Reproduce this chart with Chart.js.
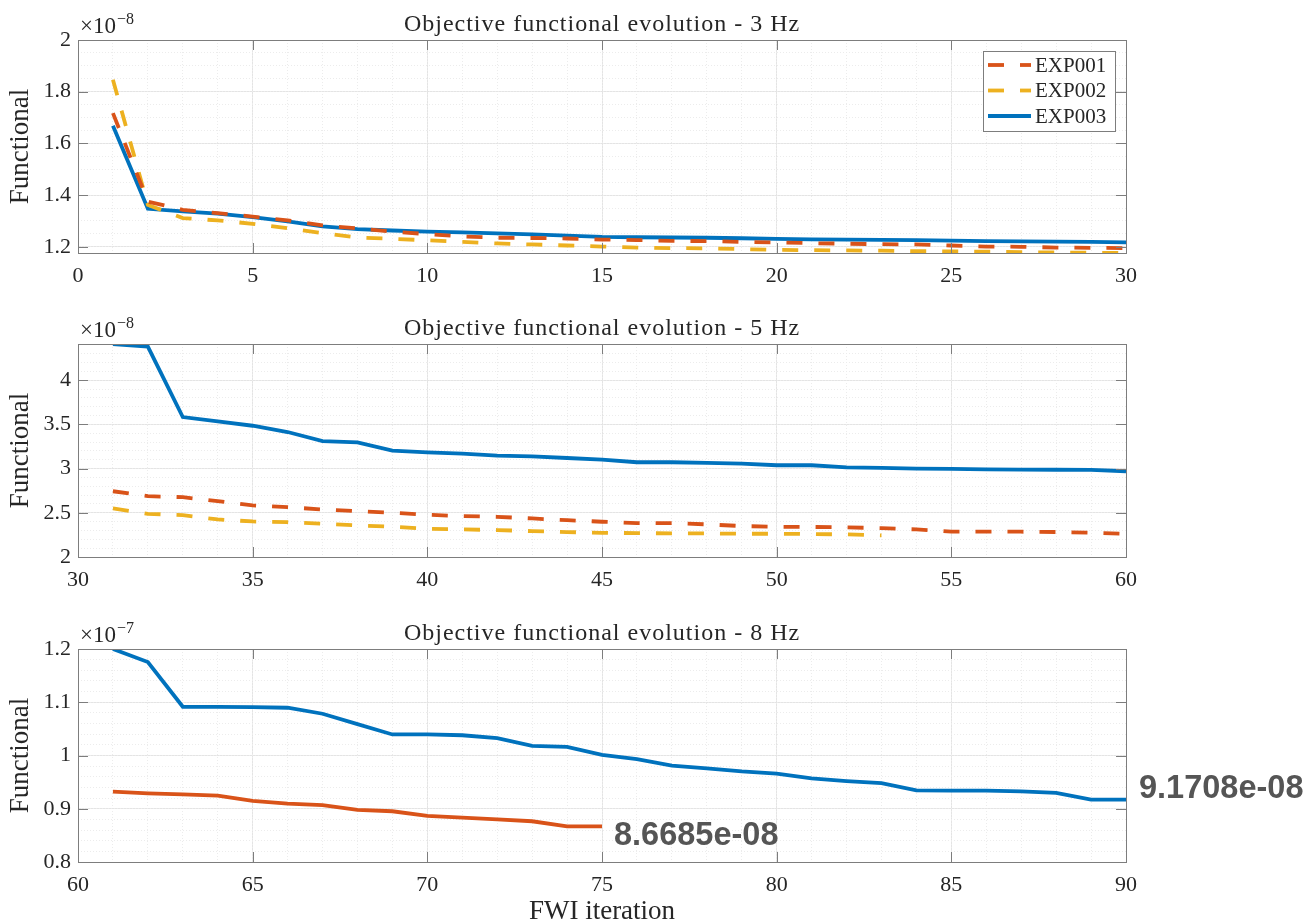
<!DOCTYPE html>
<html>
<head>
<meta charset="utf-8">
<script src="https://cdn.jsdelivr.net/npm/chart.js@4.4.1/dist/chart.umd.min.js"></script>
<style>
  body { margin: 0; background: #fff; overflow: hidden; }
  canvas { position: absolute; left: 0; }
</style>
</head>
<body>
<canvas id="c3hz" width="1306" height="300" style="top:0px"></canvas>
<canvas id="c5hz" width="1306" height="300" style="top:300px"></canvas>
<canvas id="c8hz" width="1306" height="332" style="top:600px"></canvas>
<script>
// iterations
const iter3Hz = [1, 2, 3, 4, 5, 6, 7, 8, 9, 10, 11, 12, 13, 14, 15, 16, 17, 18, 19, 20, 21, 22, 23, 24, 25, 26, 27, 28, 29, 30];
const iter5Hz = [31, 32, 33, 34, 35, 36, 37, 38, 39, 40, 41, 42, 43, 44, 45, 46, 47, 48, 49, 50, 51, 52, 53, 54, 55, 56, 57, 58, 59, 60];
const iter8Hz = [61, 62, 63, 64, 65, 66, 67, 68, 69, 70, 71, 72, 73, 74, 75, 76, 77, 78, 79, 80, 81, 82, 83, 84, 85, 86, 87, 88, 89, 90];

// functional values, 3 Hz (x1e-8)
const exp001_3Hz = [1.717, 1.375, 1.343, 1.330, 1.317, 1.302, 1.283, 1.271, 1.259, 1.249, 1.240, 1.235, 1.234, 1.232, 1.228, 1.226, 1.223, 1.222, 1.219, 1.217, 1.214, 1.212, 1.210, 1.209, 1.205, 1.201, 1.200, 1.197, 1.196, 1.195];
const exp002_3Hz = [1.846, 1.362, 1.311, 1.302, 1.289, 1.272, 1.253, 1.236, 1.231, 1.225, 1.219, 1.213, 1.209, 1.205, 1.201, 1.197, 1.195, 1.194, 1.191, 1.188, 1.187, 1.186, 1.185, 1.183, 1.182, 1.181, 1.179, 1.178, 1.177, 1.176];
const exp003_3Hz = [1.668, 1.347, 1.337, 1.328, 1.315, 1.298, 1.279, 1.268, 1.263, 1.259, 1.256, 1.252, 1.248, 1.243, 1.238, 1.237, 1.236, 1.235, 1.233, 1.231, 1.229, 1.228, 1.227, 1.226, 1.224, 1.222, 1.221, 1.220, 1.219, 1.217];

// 5 Hz (x1e-8)
const exp001_5Hz = [2.744, 2.688, 2.677, 2.632, 2.583, 2.564, 2.538, 2.519, 2.500, 2.478, 2.463, 2.455, 2.436, 2.417, 2.399, 2.384, 2.384, 2.369, 2.350, 2.342, 2.340, 2.335, 2.327, 2.312, 2.286, 2.286, 2.286, 2.283, 2.275, 2.263];
const exp002_5Hz = [2.549, 2.489, 2.474, 2.425, 2.402, 2.395, 2.376, 2.357, 2.342, 2.320, 2.312, 2.305, 2.293, 2.282, 2.274, 2.270, 2.268, 2.267, 2.263, 2.263, 2.260, 2.256, 2.245];
const exp003_5Hz = [4.408, 4.380, 3.583, 3.534, 3.485, 3.414, 3.312, 3.297, 3.203, 3.184, 3.169, 3.147, 3.139, 3.120, 3.102, 3.072, 3.072, 3.064, 3.056, 3.038, 3.038, 3.015, 3.008, 3.000, 2.996, 2.992, 2.989, 2.987, 2.986, 2.970];

// 8 Hz (x1e-7)
const exp001_8Hz = [0.9323, 0.9290, 0.9270, 0.9248, 0.9147, 0.9097, 0.9070, 0.8978, 0.8953, 0.8865, 0.8835, 0.8800, 0.8765, 0.8670, 0.86685];
const exp003_8Hz = [1.2000, 1.1755, 1.0915, 1.0915, 1.0910, 1.0897, 1.0784, 1.0590, 1.0395, 1.0395, 1.0380, 1.0326, 1.0180, 1.0163, 1.0013, 0.9930, 0.9810, 0.9760, 0.9700, 0.9660, 0.9570, 0.9520, 0.9480, 0.9345, 0.9340, 0.9340, 0.9325, 0.9300, 0.9172, 0.91708];

// tick labels
const xTicks3Hz = [0, 5, 10, 15, 20, 25, 30];
const xTicks5Hz = [30, 35, 40, 45, 50, 55, 60];
const xTicks8Hz = [60, 65, 70, 75, 80, 85, 90];
const yTicks3Hz = [1.2, 1.4, 1.6, 1.8, 2];
const yTicks5Hz = [2, 2.5, 3, 3.5, 4];
const yTicks8Hz = [0.8, 0.9, 1, 1.1, 1.2];

const seriesNames = ['EXP001', 'EXP002', 'EXP003'];
const endLabels = ['8.6685e-08', '9.1708e-08'];

const RED = '#D95319', YELLOW = '#EDB120', BLUE = '#0072BD';
const SERIF = '"Liberation Serif", "Times New Roman", serif';
const TXT = '#262626';
const DASH = [16, 16];

function pts(iters, vals) {
  return vals.map((v, i) => ({ x: iters[i], y: v }));
}

function gridSteps(min, max, step) {
  const out = [];
  for (let k = Math.ceil(min / step - 1e-9); k * step <= max + 1e-9; k++) out.push({ value: +(k * step).toFixed(6) });
  return out;
}

// MATLAB-like extras: title, exponent, box, inner ticks, legend, data tips
const matlabAxes = {
  id: 'matlabAxes',
  afterDraw(chart, args, o) {
    const ctx = chart.ctx;
    const a = chart.chartArea;
    const xs = chart.scales.x, ys = chart.scales.y;
    ctx.save();

    // box
    ctx.strokeStyle = '#7d7d7d';
    ctx.lineWidth = 1;
    ctx.setLineDash([]);
    ctx.strokeRect(Math.round(a.left) + 0.5, Math.round(a.top) + 0.5, Math.round(a.right - a.left), Math.round(a.bottom - a.top));

    // inward ticks on all four sides
    ctx.beginPath();
    xs.ticks.forEach(t => {
      const px = Math.round(xs.getPixelForValue(t.value)) + 0.5;
      ctx.moveTo(px, a.bottom); ctx.lineTo(px, a.bottom - 10);
      ctx.moveTo(px, a.top); ctx.lineTo(px, a.top + 10);
    });
    ys.ticks.forEach(t => {
      const py = Math.round(ys.getPixelForValue(t.value)) + 0.5;
      ctx.moveTo(a.left, py); ctx.lineTo(a.left + 10, py);
      ctx.moveTo(a.right, py); ctx.lineTo(a.right - 10, py);
    });
    ctx.stroke();

    // title
    ctx.fillStyle = TXT;
    ctx.font = '24px ' + SERIF;
    ctx.letterSpacing = '1px';
    ctx.textAlign = 'center';
    ctx.textBaseline = 'alphabetic';
    ctx.fillText(o.title, (a.left + a.right) / 2, a.top - 9.5);
    ctx.letterSpacing = '0px';

    // exponent
    ctx.textAlign = 'left';
    ctx.font = '23px ' + SERIF;
    const base = '\u00d710';
    ctx.fillText(base, a.left + 2, a.top - 7);
    const w = ctx.measureText(base).width;
    ctx.font = '16px ' + SERIF;
    ctx.fillText(o.exponent, a.left + 3 + w, a.top - 16);

    // legend
    if (o.legend) {
      const bx = a.right - 143, by = a.top + 11, bw = 132, bh = 80;
      ctx.fillStyle = '#fff';
      ctx.fillRect(bx, by, bw, bh);
      ctx.strokeStyle = '#7d7d7d';
      ctx.strokeRect(bx + 0.5, by + 0.5, bw, bh);
      chart.data.datasets.forEach((d, i) => {
        const ry = by + 14 + i * 25.5;
        ctx.strokeStyle = d.borderColor;
        ctx.lineWidth = d.borderWidth;
        ctx.setLineDash(d.borderDash || []);
        ctx.lineCap = 'butt';
        ctx.beginPath();
        ctx.moveTo(bx + 5, ry); ctx.lineTo(bx + 48, ry);
        ctx.stroke();
        ctx.setLineDash([]);
        ctx.fillStyle = TXT;
        ctx.font = '21px ' + SERIF;
        ctx.textBaseline = 'middle';
        ctx.fillText(d.label, bx + 52, ry + 1);
      });
    }

    // data tips at series end points
    (o.notes || []).forEach(n => {
      const d = chart.data.datasets[n.dataset].data;
      const p = d[d.length - 1];
      ctx.fillStyle = '#555555';
      ctx.font = 'bold 32.5px "Liberation Sans", Arial, sans-serif';
      ctx.textBaseline = 'middle';
      ctx.textAlign = 'left';
      ctx.fillText(n.text, xs.getPixelForValue(p.x) + n.dx, ys.getPixelForValue(p.y) + n.dy);
    });
    ctx.restore();
  }
};

function makeChart(id, p) {
  const tickFont = { family: SERIF, size: 22 };
  const labelFont = { family: SERIF, size: 27 };
  const fmt = v => String(+v.toFixed(3));
  const scales = {
    x: {
      type: 'linear', position: 'bottom', min: p.xMin, max: p.xMax, bounds: 'data',
      afterBuildTicks: s => { s.ticks = p.xTicks.map(v => ({ value: v })); },
      ticks: { font: tickFont, color: TXT, padding: 10, maxRotation: 0, autoSkip: false, callback: fmt },
      grid: { color: '#e4e4e4', lineWidth: 1, drawTicks: false },
      border: { display: false },
      title: { display: !!p.xTitle, text: p.xTitle || '', font: labelFont, color: TXT, padding: { top: 0, bottom: 4 } },
      afterFit: s => { s.height = p.xHeight; }
    },
    xMinor: {
      type: 'linear', position: 'bottom', min: p.xMin, max: p.xMax, bounds: 'data',
      afterBuildTicks: s => { s.ticks = gridSteps(p.xMin, p.xMax, 1); },
      ticks: { display: false },
      grid: { color: '#ececec', lineWidth: 1, drawTicks: false },
      border: { display: false, dash: [1, 2] },
      afterFit: s => { s.height = 0; }
    },
    y: {
      type: 'linear', position: 'left', min: p.yMin, max: p.yMax, bounds: 'data',
      afterBuildTicks: s => { s.ticks = p.yTicks.map(v => ({ value: v })); },
      ticks: { font: tickFont, color: TXT, padding: 7, callback: fmt },
      grid: { color: '#e4e4e4', lineWidth: 1, drawTicks: false },
      border: { display: false },
      title: { display: true, text: 'Functional', font: labelFont, color: TXT, padding: { top: 5, bottom: 0 } },
      afterFit: s => { s.width = 78; }
    },
    yMinor: {
      type: 'linear', position: 'left', min: p.yMin, max: p.yMax, bounds: 'data',
      afterBuildTicks: s => { s.ticks = gridSteps(p.yMin, p.yMax, p.yMinorStep); },
      ticks: { display: false },
      grid: { color: '#ececec', lineWidth: 1, drawTicks: false },
      border: { display: false, dash: [1, 2] },
      afterFit: s => { s.width = 0; }
    }
  };
  const datasets = p.series.map(s => ({
    label: s.label,
    data: pts(s.iters, s.values),
    borderColor: s.color,
    backgroundColor: s.color,
    borderWidth: 3.8,
    borderDash: s.dash,
    borderCapStyle: 'butt',
    pointRadius: 0,
    tension: 0,
    fill: false
  }));
  return new Chart(document.getElementById(id), {
    type: 'line',
    data: { datasets },
    options: {
      responsive: false,
      animation: false,
      events: [],
      layout: { autoPadding: false, padding: { left: 0, top: p.top, right: 180, bottom: 0 } },
      plugins: {
        legend: { display: false },
        tooltip: { enabled: false },
        title: { display: false },
        matlabAxes: { title: p.title, exponent: p.exponent, legend: p.legend, notes: p.notes }
      },
      scales
    },
    plugins: [matlabAxes]
  });
}

makeChart('c3hz', {
  title: 'Objective functional evolution - 3 Hz', exponent: '\u22128', legend: true,
  top: 40, xHeight: 47,
  xMin: 0, xMax: 30, xTicks: xTicks3Hz,
  yMin: 1.176, yMax: 2, yTicks: yTicks3Hz, yMinorStep: 0.05,
  series: [
    { label: seriesNames[0], iters: iter3Hz, values: exp001_3Hz, color: RED, dash: DASH },
    { label: seriesNames[1], iters: iter3Hz, values: exp002_3Hz, color: YELLOW, dash: DASH },
    { label: seriesNames[2], iters: iter3Hz, values: exp003_3Hz, color: BLUE, dash: [] }
  ]
});

makeChart('c5hz', {
  title: 'Objective functional evolution - 5 Hz', exponent: '\u22128', legend: false,
  top: 44, xHeight: 43,
  xMin: 30, xMax: 60, xTicks: xTicks5Hz,
  yMin: 2, yMax: 4.41, yTicks: yTicks5Hz, yMinorStep: 0.1,
  series: [
    { label: seriesNames[0], iters: iter5Hz, values: exp001_5Hz, color: RED, dash: DASH },
    { label: seriesNames[1], iters: iter5Hz, values: exp002_5Hz, color: YELLOW, dash: DASH },
    { label: seriesNames[2], iters: iter5Hz, values: exp003_5Hz, color: BLUE, dash: [] }
  ]
});

makeChart('c8hz', {
  title: 'Objective functional evolution - 8 Hz', exponent: '\u22127', legend: false,
  top: 49, xHeight: 70, xTitle: 'FWI iteration',
  xMin: 60, xMax: 90, xTicks: xTicks8Hz,
  yMin: 0.8, yMax: 1.2, yTicks: yTicks8Hz, yMinorStep: 0.02,
  series: [
    { label: seriesNames[0], iters: iter8Hz, values: exp001_8Hz, color: RED, dash: [] },
    { label: seriesNames[2], iters: iter8Hz, values: exp003_8Hz, color: BLUE, dash: [] }
  ],
  notes: [
    { dataset: 0, text: endLabels[0], dx: 12, dy: 10 },
    { dataset: 1, text: endLabels[1], dx: 13, dy: -11 }
  ]
});
</script>
</body>
</html>
